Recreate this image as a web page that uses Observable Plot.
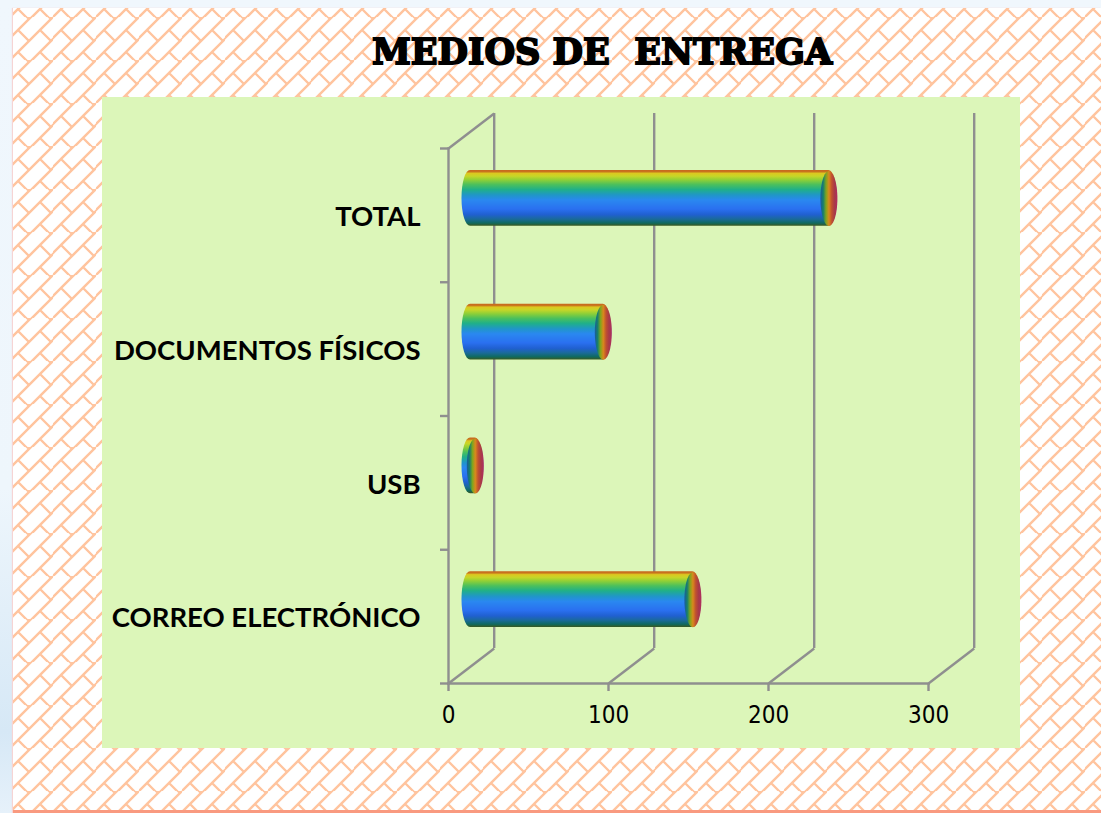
<!DOCTYPE html>
<html lang="es">
<head>
<meta charset="utf-8">
<script src="https://cdn.jsdelivr.net/npm/d3@7"></script>
<script src="https://cdn.jsdelivr.net/npm/@observablehq/plot@0.6"></script>
<style>
html,body{margin:0;padding:0;width:1101px;height:813px;overflow:hidden;background:linear-gradient(180deg,#f0f7fd 0%,#eef6fc 60%,#d6e8f6 90%,#e6f1fa 100%);}
#sheet{position:absolute;left:13px;top:8px;width:1088px;height:802px;background-color:#fff;
 background-image:url("data:image/svg+xml,%3Csvg xmlns='http://www.w3.org/2000/svg' width='21.5' height='21.5' viewBox='0 0 21.5 21.5'%3E%3Cfilter id='b' x='-10%25' y='-10%25' width='120%25' height='120%25'%3E%3CfeGaussianBlur stdDeviation='.55'/%3E%3C/filter%3E%3Cg stroke='%23ffc49e' stroke-width='2.4' fill='none' filter='url(%23b)'%3E%3Cpath d='M-2 23.5L23.5 -2M-2 2L2 -2M19.5 23.5L23.5 19.5M0 0L10.75 10.75'/%3E%3C/g%3E%3C/svg%3E");
 background-size:21.5px 21.5px;background-position:5.3px 0.7px;border-bottom:3px solid #f99a80;box-shadow:-1px 0 1px #f6d4d4;}
#title{position:absolute;left:372px;top:28px;margin:0;font:900 36px/46px "DejaVu Serif",serif;color:#000;white-space:pre;-webkit-text-stroke:1.8px #000;transform-origin:0 50%;transform:scaleX(.975);}
#panel{position:absolute;left:102px;top:97px;width:918px;height:651px;background:#dcf6b9;}
#panel svg{display:block;overflow:visible;}
</style>
</head>
<body>
<div id="sheet"></div>
<h1 id="title">MEDIOS DE  ENTREGA</h1>
<div id="panel"></div>
<script>
const categories = ["TOTAL", "DOCUMENTOS FÍSICOS", "USB", "CORREO ELECTRÓNICO"];
const values = [224, 83, 3, 139];
const xTicks = [0, 100, 200, 300];
const barStops = ["#c8681e","#c8741e","#dcc820","#c6d628","#8ccf38","#4cc05c","#20b088","#2096c8","#2a88f0","#2a70f0","#2060d0","#1a6a9a","#0f6a60","#3a5a20"];
const barOffsets = [0,.03,.06,.11,.18,.26,.35,.45,.54,.7,.8,.88,.95,1];
const capStops = ["#1a5a9c","#17806c","#7fa51e","#d88a1c","#c05030","#a83a48","#b02c62"];

const wall = "#8f8f8f";
const rows = categories.map((category, i) => ({category, value: values[i]}));

function ellipseSymbol(a, b) {
  const k = 0.5523;
  return {draw(c) {
    c.moveTo(-a, 0);
    c.bezierCurveTo(-a, -k*b, -k*a, -b, 0, -b);
    c.bezierCurveTo(k*a, -b, a, -k*b, a, 0);
    c.bezierCurveTo(a, k*b, k*a, b, 0, b);
    c.bezierCurveTo(-k*a, b, -a, k*b, -a, 0);
    c.closePath();
  }};
}
const depthSymbol = {draw(c) { c.moveTo(0, 0); c.lineTo(45.7, -35); }};

function gradients() {
  const defs = d3.create("svg:defs");
  const add = (id, stops, offsets, x2, y2) => {
    const g = defs.append("linearGradient").attr("id", id)
      .attr("x1", 0).attr("y1", 0).attr("x2", x2).attr("y2", y2);
    stops.forEach((c, i) => g.append("stop").attr("offset", offsets ? offsets[i] : i / (stops.length - 1)).attr("stop-color", c));
  };
  add("cyl", barStops, barOffsets, 0, 1);
  add("cap", capStops, null, 1, 0);
  return defs.node();
}

const chart = Plot.plot({
  width: 918,
  height: 651,
  marginLeft: 346,
  marginRight: 92,
  marginTop: 51,
  marginBottom: 65,
  style: {background: "transparent", overflow: "visible"},
  x: {domain: [0, 300], ticks: xTicks},
  y: {domain: categories, padding: 0, round: false},
  marks: [
    gradients,
    Plot.ruleX(xTicks, {stroke: wall, strokeWidth: 2.4, dx: 45.7, dy: -35}),
    Plot.dot(xTicks, {x: d => d, frameAnchor: "bottom", symbol: depthSymbol, fill: "none", stroke: wall, strokeWidth: 2.4}),
    Plot.dot([0], {x: d => d, frameAnchor: "top", symbol: depthSymbol, fill: "none", stroke: wall, strokeWidth: 2.4}),
    Plot.frame({anchor: "left", stroke: wall, strokeWidth: 2.4}),
    Plot.frame({anchor: "bottom", stroke: wall, strokeWidth: 2.4}),
    Plot.ruleY(categories, {x1: -5, x2: 0, stroke: wall, strokeWidth: 2.4, dy: -66.875}),
    Plot.ruleY(categories.slice(-1), {x1: -5, x2: 0, stroke: wall, strokeWidth: 2.4, dy: 66.875}),
    Plot.axisX({ticks: xTicks, tickSize: 8, tickPadding: 14, stroke: wall, strokeWidth: 2.4, fontSize: 24, fill: "#000", label: null,
      fontFamily: "'DejaVu Sans Condensed','DejaVu Sans',sans-serif", style: {fontStretch: "condensed"}}),
    Plot.axisY({tickSize: 0, tickPadding: 28, fontSize: 27.5, fontWeight: "bold", fill: "#000", label: null, dy: 2, fontFamily: "Lato, sans-serif"}),
    Plot.barX(rows, {x1: () => 0, x2: "value", y: "category", fill: "url(#cyl)", dx: 22, dy: -17,
      insetTop: 39, insetBottom: 39, insetLeft: -8.5, insetRight: -8.5, rx: 8.5, ry: 27.5}),
    Plot.dot(rows, {x: "value", y: "category", fill: "url(#cap)", dx: 22, dy: -17, symbol: ellipseSymbol(8.5, 27.5)})
  ]
});
document.getElementById("panel").appendChild(chart);
</script>
</body>
</html>
